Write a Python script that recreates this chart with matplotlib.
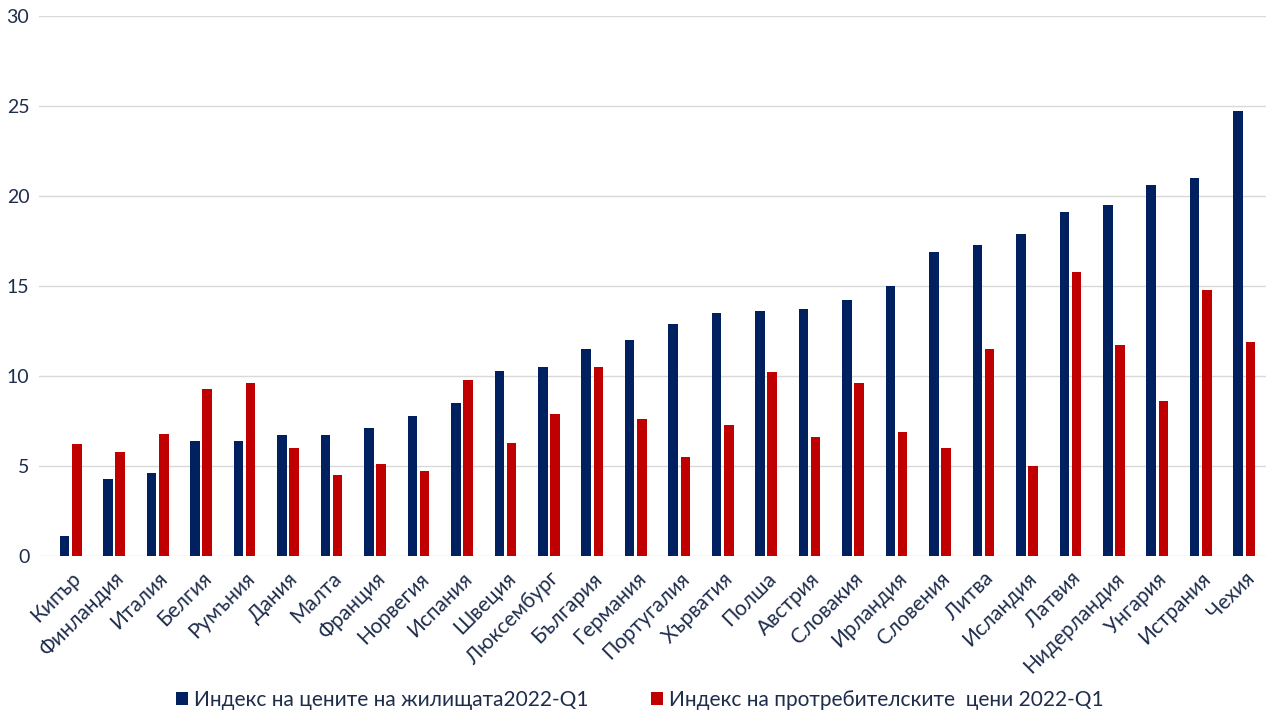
import matplotlib
matplotlib.use("Agg")
import matplotlib.pyplot as plt
import numpy as np

countries = ["Кипър", "Финландия", "Италия", "Белгия", "Румъния", "Дания", "Малта",
             "Франция", "Норвегия", "Испания", "Швеция", "Люксембург", "България",
             "Германия", "Португалия", "Хърватия", "Полша", "Австрия", "Словакия",
             "Ирландия", "Словения", "Литва", "Исландия", "Латвия", "Нидерландия",
             "Унгария", "Истрания", "Чехия"]
house_prices = [1.1, 4.3, 4.6, 6.4, 6.4, 6.7, 6.7, 7.1, 7.8, 8.5, 10.3, 10.5, 11.5,
                12.0, 12.9, 13.5, 13.6, 13.7, 14.2, 15.0, 16.9, 17.3, 17.9, 19.1,
                19.5, 20.6, 21.0, 24.7]
consumer_prices = [6.2, 5.8, 6.8, 9.3, 9.6, 6.0, 4.5, 5.1, 4.7, 9.8, 6.3, 7.9, 10.5,
                   7.6, 5.5, 7.3, 10.2, 6.6, 9.6, 6.9, 6.0, 11.5, 5.0, 15.8, 11.7,
                   8.6, 14.8, 11.9]
label_house = "Индекс на цените на жилищата2022-Q1"
label_cpi = "Индекс на протребителските  цени 2022-Q1"
yticks = [0, 5, 10, 15, 20, 25, 30]

plt.rcParams['font.family'] = ['Lato', 'Open Sans', 'DejaVu Sans']
text_color = "#1F2D4D"
blue = "#002060"
red = "#C00000"

fig = plt.figure(figsize=(12.8, 7.2), dpi=100)
ax = fig.add_axes([39/1280, 1 - 556/720, (1266 - 39)/1280, (556 - 16)/720])

x = np.arange(len(countries))
w = 0.22
b1 = ax.bar(x - 0.14, house_prices, width=w, color=blue, label=label_house, zorder=3)
b2 = ax.bar(x + 0.14, consumer_prices, width=w, color=red, label=label_cpi, zorder=3)

ax.set_xlim(-0.73, 27.5)
ax.set_ylim(0, 30)
ax.set_yticks(yticks)
ax.set_yticklabels([str(v) for v in yticks])
ax.grid(axis='y', color="#D9D9D9", linewidth=1, zorder=0)
for s in ax.spines.values():
    s.set_visible(False)
ax.tick_params(axis='both', length=0, colors=text_color)
ax.tick_params(axis='y', labelsize=14, pad=7)
ax.set_xticks(x)
ax.set_xticklabels(countries, rotation=45, ha='right', rotation_mode='anchor',
                   fontsize=15, color=text_color)
ax.tick_params(axis='x', pad=9)
for lab in ax.get_yticklabels():
    lab.set_color(text_color)

leg = fig.legend(handles=[b1, b2], labels=[label_house, label_cpi],
                 loc='center', bbox_to_anchor=(0.5, 1 - 700/720),
                 ncol=2, frameon=False, fontsize=15, handlelength=0.55,
                 handleheight=0.55, handletextpad=0.3, columnspacing=3.0)
for t in leg.get_texts():
    t.set_color(text_color)

fig.savefig("out.png", dpi=100)
